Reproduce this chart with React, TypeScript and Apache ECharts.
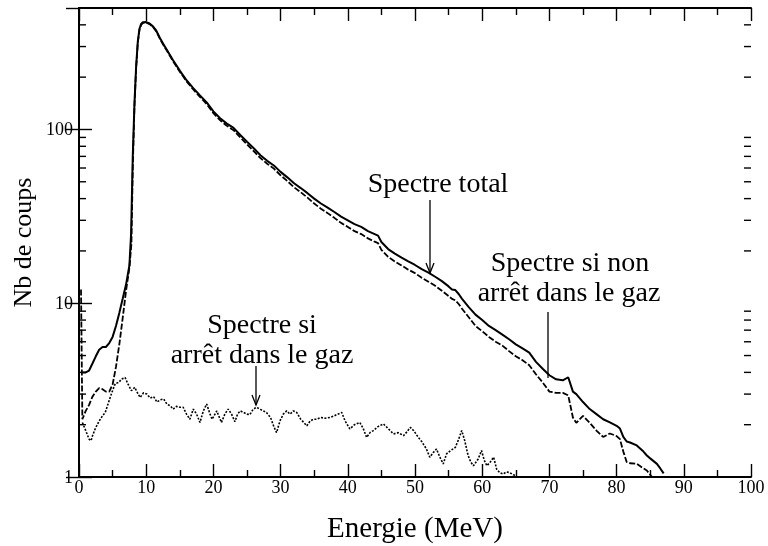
import React, { useEffect, useRef } from "react";
import * as echarts from "echarts";

// ---- data ----
const xTickValues = [0, 10, 20, 30, 40, 50, 60, 70, 80, 90, 100];
const yMinorTicks = [2, 3, 4, 5, 6, 7, 8, 9, 20, 30, 40, 50, 60, 70, 80, 90, 200, 300, 400];

// Spectre total (solid)
const totalSpectrum: [number, number][] = [
  [0.5, 4.0], [1.0, 4.0], [1.5, 4.1], [2.0, 4.5], [2.5, 4.95], [3.0, 5.4], [3.5, 5.6], [4.0, 5.6],
  [4.5, 5.9], [5.0, 6.4], [5.5, 7.4], [6.0, 8.8], [6.5, 10.6], [7.0, 12.8], [7.5, 16.5], [7.75, 25],
  [8.0, 70], [8.25, 140], [8.5, 230], [8.75, 320], [9.0, 380], [9.25, 405], [9.5, 414], [10.0, 415],
  [10.5, 407], [11.0, 392], [11.5, 370], [12.0, 338], [12.5, 312], [13.0, 290], [14.0, 250], [15.0, 218], [16.0, 192],
  [17.0, 173], [18.0, 157], [19.0, 143], [20.0, 127], [21.0, 116], [22.0, 108], [23.0, 102], [24.0, 93],
  [25.0, 85], [26.0, 78], [27.0, 71], [28.0, 66], [29.0, 62], [30.0, 57], [31.0, 53], [32.0, 49],
  [33.0, 46], [34.0, 43], [35.0, 40], [36.0, 37.5], [37.0, 35.5], [38.0, 33.5], [39.0, 31.5], [40.0, 30],
  [41.0, 28.5], [42.0, 27.5], [43.0, 26], [44.0, 25], [44.5, 24.5], [45.0, 22.5], [46.0, 20.5], [47.0, 19.3],
  [48.0, 18.3], [49.0, 17.4], [50.0, 16.6], [51.0, 15.7], [52.0, 15], [53.0, 14.2], [54.0, 13.4], [55.0, 12.5],
  [55.5, 12.0], [56.0, 11.9], [56.5, 11.3], [57.0, 10.6], [58.0, 9.5], [59.0, 8.6], [60.0, 8.0], [61.0, 7.4],
  [62.0, 7.0], [63.0, 6.6], [64.0, 6.2], [65.0, 5.8], [66.0, 5.5], [67.0, 5.2], [68.0, 4.6], [69.0, 4.2],
  [70.0, 3.85], [71.0, 3.65], [72.0, 3.6], [72.8, 3.75], [73.5, 3.1], [74.0, 3.0], [75.0, 2.7], [76.0, 2.46],
  [77.0, 2.3], [78.0, 2.15], [79.0, 2.06], [80.0, 1.97], [80.5, 1.9], [81.0, 1.7], [81.5, 1.6], [82.0, 1.58],
  [83.0, 1.52], [84.0, 1.4], [84.5, 1.33], [85.0, 1.28], [86.0, 1.19], [86.5, 1.12], [87.0, 1.05],
];

// Spectre si non arrêt dans le gaz (dashed)
const nonStoppedSpectrum: [number, number][] = [
  [0.3, 12], [0.5, 2.15], [1.0, 2.4], [1.5, 2.6], [2.0, 2.9], [2.5, 3.1], [3.0, 3.25], [3.5, 3.2],
  [4.0, 3.1], [4.5, 3.1], [5.0, 3.4], [5.5, 4.3], [6.0, 5.8], [6.5, 8.2], [7.0, 11.8], [7.5, 16],
  [7.8, 22], [8.0, 60], [8.25, 135], [8.5, 225], [8.75, 315], [9.0, 375], [9.25, 400], [9.5, 410],
  [10.0, 412], [10.5, 404], [11.0, 389], [11.5, 367], [12.0, 335], [12.5, 309], [13.0, 287], [14.0, 247], [15.0, 215],
  [16.0, 189], [17.0, 170], [18.0, 154], [19.0, 140], [20.0, 124], [21.0, 113], [22.0, 105], [23.0, 99],
  [24.0, 90], [25.0, 82], [26.0, 75], [27.0, 68.5], [28.0, 63.5], [29.0, 59.5], [30.0, 54.5], [31.0, 50.5],
  [32.0, 46.5], [33.0, 43.5], [34.0, 40.5], [35.0, 37.5], [36.0, 35], [37.0, 33], [38.0, 31], [39.0, 29],
  [40.0, 27.5], [41.0, 26], [42.0, 25], [43.0, 23.6], [44.0, 22.6], [44.5, 22.2], [45.0, 20.3], [46.0, 18.5],
  [47.0, 17.4], [48.0, 16.5], [49.0, 15.6], [50.0, 14.9], [51.0, 14.0], [52.0, 13.3], [53.0, 12.6], [54.0, 11.8],
  [55.0, 11.0], [55.5, 10.6], [56.0, 10.4], [56.5, 9.9], [57.0, 9.3], [58.0, 8.3], [59.0, 7.4], [60.0, 6.9],
  [61.0, 6.4], [62.0, 6.0], [63.0, 5.7], [64.0, 5.3], [65.0, 4.95], [66.0, 4.7], [67.0, 4.4], [68.0, 3.9],
  [69.0, 3.5], [70.0, 3.1], [71.0, 3.05], [72.0, 3.05], [72.8, 2.95], [73.5, 2.2], [74.0, 2.05], [75.0, 2.25],
  [76.0, 2.05], [77.0, 1.85], [78.0, 1.7], [79.0, 1.78], [80.0, 1.72], [80.5, 1.65], [81.0, 1.4], [81.5, 1.22],
  [82.0, 1.2], [83.0, 1.19], [84.0, 1.12], [84.5, 1.09], [85.0, 1.03], [85.3, 1.0],
];

// Spectre si arrêt dans le gaz (dotted)
const stoppedSpectrum: [number, number][] = [
  [0.5, 2.06], [1.0, 1.85], [1.5, 1.65], [1.8, 1.62], [2.0, 1.72], [2.4, 1.89], [3.0, 2.1], [3.5, 2.25],
  [3.9, 2.35], [4.4, 2.69], [4.9, 3.07], [5.4, 3.45], [5.9, 3.5], [6.35, 3.66], [6.85, 3.74], [7.3, 3.42],
  [7.8, 3.14], [8.3, 3.28], [8.6, 3.1], [9.1, 2.87], [9.6, 3.05], [10.1, 3.0], [10.6, 2.85], [11.1, 2.9],
  [11.6, 2.7], [12.1, 2.78], [12.6, 2.81], [13.1, 2.62], [13.6, 2.57], [14.0, 2.46], [14.5, 2.55], [15.0, 2.52],
  [15.5, 2.52], [16.0, 2.3], [16.5, 2.15], [17.0, 2.46], [17.5, 2.3], [18.0, 2.06], [18.5, 2.4], [19.0, 2.63],
  [19.5, 2.3], [19.8, 2.15], [20.5, 2.4], [21.2, 2.06], [21.7, 2.3], [22.2, 2.46], [22.7, 2.3], [23.2, 2.08],
  [23.6, 2.3], [24.0, 2.4], [24.5, 2.35], [25.0, 2.3], [25.4, 2.28], [25.9, 2.45], [26.4, 2.52], [27.0, 2.45],
  [27.9, 2.35], [28.5, 2.2], [29.0, 1.95], [29.4, 1.8], [29.9, 2.1], [30.4, 2.3], [30.9, 2.4], [31.4, 2.3],
  [31.9, 2.4], [32.4, 2.35], [33.0, 2.15], [33.5, 2.05], [33.9, 1.97], [34.4, 2.1], [34.9, 2.15], [35.4, 2.15],
  [36.0, 2.2], [36.6, 2.18], [37.35, 2.2], [38.0, 2.25], [38.5, 2.3], [39.1, 2.35], [39.6, 2.1], [40.3, 1.89],
  [41.0, 2.0], [41.8, 2.06], [42.3, 1.9], [42.8, 1.69], [43.3, 1.8], [43.8, 1.85], [44.5, 1.95], [45.3, 2.02],
  [46.0, 1.9], [46.8, 1.77], [47.5, 1.8], [48.3, 1.73], [48.8, 1.82], [49.3, 1.93], [49.8, 1.85], [50.5, 1.69],
  [51.0, 1.6], [51.7, 1.45], [52.2, 1.3], [52.7, 1.38], [53.2, 1.45], [53.7, 1.3], [54.2, 1.19], [54.7, 1.36],
  [55.3, 1.42], [56.0, 1.48], [56.5, 1.65], [56.95, 1.85], [57.4, 1.62], [57.9, 1.33], [58.3, 1.22], [58.7, 1.16],
  [59.4, 1.27], [59.9, 1.42], [60.3, 1.25], [60.7, 1.16], [61.2, 1.22], [61.7, 1.3], [62.15, 1.11], [62.6, 1.06],
  [63.1, 1.04], [63.6, 1.07], [64.1, 1.06], [64.6, 1.03], [65.1, 1.02],
];

const FONT = "Liberation Serif";
const BLACK = "#000";

function arrowHead(x: number, y: number) {
  return {
    type: "polyline",
    shape: { points: [[x - 4, y - 10], [x, y], [x + 4, y - 10]] },
    style: { stroke: BLACK, lineWidth: 1.3, fill: "none" },
  };
}

function label(text: string, x: number, y: number) {
  return {
    type: "text",
    x,
    y,
    style: { text, fontFamily: FONT, fontSize: 28, fill: BLACK, align: "center", verticalAlign: "middle" },
  };
}

export default function App() {
  const ref = useRef<HTMLDivElement>(null);

  useEffect(() => {
    if (!ref.current) return;
    const chart = echarts.init(ref.current, undefined, { renderer: "svg" });

    const baseX = {
      type: "value",
      min: 0,
      max: 100,
      interval: 10,
      splitLine: { show: false },
      axisLine: { lineStyle: { color: BLACK, width: 2 } },
      axisTick: { inside: true, length: 13, lineStyle: { color: BLACK, width: 1.4 } },
      minorTick: { show: true, splitNumber: 2, length: 7, lineStyle: { color: BLACK, width: 1.4 } },
    };
    const baseY = {
      type: "log",
      logBase: 10,
      min: 1,
      max: 500,
      splitLine: { show: false },
      axisLine: { lineStyle: { color: BLACK, width: 2 } },
      axisTick: { inside: true, length: 13, lineStyle: { color: BLACK, width: 1.4 } },
    };

    const option: any = {
      animation: false,
      grid: { left: 79, right: 17, top: 8, bottom: 68, containLabel: false },
      xAxis: [
        {
          ...baseX,
          position: "bottom",
          axisLabel: {
            fontSize: 18,
            color: BLACK,
            fontFamily: FONT,
            margin: 1,
            formatter: (v: number) => (xTickValues.includes(v) ? String(v) : ""),
          },
          name: "Energie (MeV)",
          nameLocation: "middle",
          nameGap: 35,
          nameTextStyle: { fontSize: 29, color: BLACK, fontFamily: FONT },
        },
        { ...baseX, position: "top", axisLabel: { show: false } },
      ],
      yAxis: [
        {
          ...baseY,
          position: "left",
          axisLabel: {
            fontSize: 18,
            color: BLACK,
            fontFamily: FONT,
            margin: 6,
            showMaxLabel: false,
            formatter: (v: number) => (v === 500 ? "" : String(v)),
          },
          name: "Nb de coups",
          nameLocation: "middle",
          nameRotate: 90,
          nameGap: 42,
          nameTextStyle: { fontSize: 26, color: BLACK, fontFamily: FONT },
        },
        { ...baseY, position: "right", axisLabel: { show: false } },
      ],
      series: [
        {
          name: "Spectre si arrêt dans le gaz",
          type: "line",
          data: stoppedSpectrum,
          showSymbol: false,
          symbol: "none",
          lineStyle: { color: BLACK, width: 1.6, type: [2, 1.5] },
          z: 3,
        },
        {
          name: "Spectre si non arrêt dans le gaz",
          type: "line",
          data: nonStoppedSpectrum,
          showSymbol: false,
          symbol: "none",
          lineStyle: { color: BLACK, width: 1.8, type: [6, 2] },
          z: 4,
        },
        {
          name: "Spectre total",
          type: "line",
          data: totalSpectrum,
          showSymbol: false,
          symbol: "none",
          lineStyle: { color: BLACK, width: 2 },
          z: 5,
        },
        {
          name: "minor log ticks",
          type: "custom",
          silent: true,
          clip: false,
          z: 10,
          data: yMinorTicks.map((v) => [0, v]),
          encode: { x: 0, y: 1 },
          renderItem: (_params: any, api: any) => {
            const v = api.value(1);
            const pl = api.coord([0, v]);
            const pr = api.coord([100, v]);
            return {
              type: "group",
              children: [
                { type: "line", shape: { x1: pl[0], y1: pl[1], x2: pl[0] + 7, y2: pl[1] }, style: { stroke: BLACK, lineWidth: 1.4 } },
                { type: "line", shape: { x1: pr[0] - 7, y1: pr[1], x2: pr[0], y2: pr[1] }, style: { stroke: BLACK, lineWidth: 1.4 } },
              ],
            };
          },
        },
      ],
      graphic: [
        label("Spectre total", 438, 182),
        { type: "line", shape: { x1: 430, y1: 200, x2: 430, y2: 273 }, style: { stroke: BLACK, lineWidth: 1.3 } },
        arrowHead(430, 273),
        label("Spectre si non", 570, 261),
        label("arrêt dans le gaz", 569, 291),
        { type: "line", shape: { x1: 548, y1: 312, x2: 548, y2: 378 }, style: { stroke: BLACK, lineWidth: 1.3 } },
        label("Spectre si", 262, 323),
        label("arrêt dans le gaz", 262, 353),
        { type: "line", shape: { x1: 256, y1: 366, x2: 256, y2: 405 }, style: { stroke: BLACK, lineWidth: 1.3 } },
        arrowHead(256, 405),
      ],
    };

    chart.setOption(option);
    return () => chart.dispose();
  }, []);

  return (
    <div>
      <div ref={ref} style={{ position: "fixed", left: 0, top: 0, width: 768, height: 546 }} />
    </div>
  );
}
